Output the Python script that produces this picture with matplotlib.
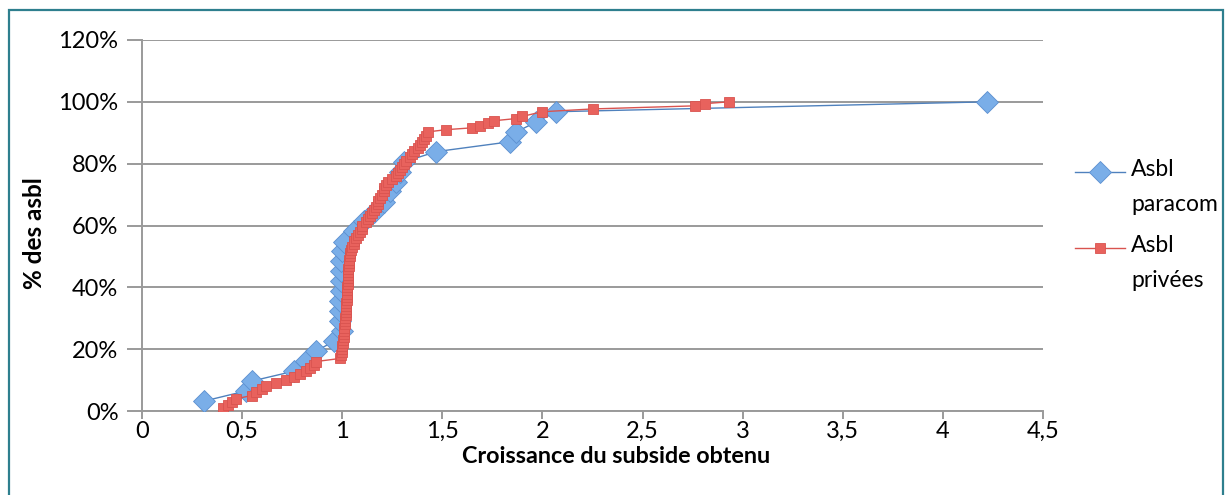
import matplotlib
matplotlib.use("Agg")
import matplotlib.pyplot as plt
from matplotlib.patches import Rectangle
from matplotlib.lines import Line2D
from matplotlib.ticker import FuncFormatter, MultipleLocator

# ---- data ----
paracom_x = [0.31, 0.52, 0.55, 0.76, 0.82, 0.87, 0.96,
             1.00, 0.99, 0.99, 0.99, 0.995, 0.995, 0.995, 0.995, 1.00, 1.01,
             1.06, 1.11, 1.16, 1.21, 1.24, 1.27, 1.29, 1.31,
             1.47, 1.84, 1.87, 1.97, 2.07, 4.22]
paracom_y = [3.2, 6.5, 9.7, 12.9, 16.1, 19.4, 22.6,
             25.8, 29.0, 32.3, 35.5, 38.7, 41.9, 45.2, 48.4, 51.6, 54.8,
             58.1, 61.3, 64.5, 67.7, 71.0, 74.2, 77.4, 80.6,
             83.9, 87.1, 90.3, 93.5, 96.8, 100.0]

privees_x = [0.405, 0.43, 0.45, 0.47, 0.55, 0.57, 0.60, 0.62, 0.67, 0.72,
             0.76, 0.79, 0.82, 0.84, 0.86, 0.87,
             0.99, 0.995, 1.00, 1.00, 1.00, 1.005, 1.005, 1.01, 1.01, 1.01,
             1.01, 1.015, 1.015, 1.015, 1.02, 1.02, 1.02, 1.02, 1.02, 1.025,
             1.025, 1.025, 1.025, 1.025, 1.03, 1.03, 1.03, 1.03, 1.03, 1.03,
             1.035, 1.035, 1.035, 1.04, 1.04, 1.045,
             1.05, 1.06, 1.06, 1.07, 1.08, 1.09, 1.10, 1.10, 1.12, 1.13,
             1.14, 1.15, 1.16, 1.17, 1.18, 1.18, 1.19, 1.20, 1.21, 1.21,
             1.22, 1.23, 1.25, 1.27, 1.28, 1.29, 1.30, 1.31, 1.32, 1.34,
             1.35, 1.36, 1.38, 1.39, 1.40, 1.41, 1.42, 1.43,
             1.52, 1.65, 1.69, 1.73, 1.76, 1.87, 1.90, 2.00, 2.25, 2.76, 2.81, 2.93]
privees_y = [1.0, 2.0, 3.0, 4.0, 5.0, 6.0, 7.0, 8.0, 9.0, 10.0,
             11.0, 12.0, 13.0, 14.0, 15.0, 16.0,
             17.0, 18.0, 19.0, 20.0, 21.0, 22.0, 23.0, 24.0, 25.0, 26.0,
             27.0, 28.0, 29.0, 30.0, 31.0, 32.0, 33.0, 34.0, 35.0, 36.0,
             37.0, 38.0, 39.0, 40.0, 41.0, 42.0, 43.0, 44.0, 45.0, 46.0,
             47.0, 48.0, 49.0, 50.0, 51.0, 52.0,
             53.0, 54.0, 55.0, 56.0, 57.0, 58.0, 59.0, 60.0, 61.0, 62.0,
             63.0, 64.0, 65.0, 66.0, 67.0, 68.0, 69.0, 70.0, 71.0, 72.0,
             73.0, 74.0, 75.0, 76.0, 77.0, 78.0, 79.0, 80.0, 81.0, 82.0,
             83.0, 84.0, 85.0, 86.0, 87.0, 88.0, 89.0, 90.3,
             91.0, 91.6, 92.3, 93.2, 93.9, 94.6, 95.3, 96.8, 97.7, 98.7, 99.4, 100.0]

series_labels = ["Asbl\nparacom", "Asbl\nprivées"]
x_label = "Croissance du subside obtenu"
y_label = "% des asbl"

# ---- styles ----
blue_style = dict(color="#4F81BD", linewidth=1.0, marker="D", markersize=11.5,
                  markerfacecolor="#7AAEE8", markeredgecolor="#5B8FD0",
                  markeredgewidth=0.6)
red_style = dict(color="#D9534F", linewidth=1.0, marker="s", markersize=7.5,
                 markerfacecolor="#E8625D", markeredgecolor="#D9534F",
                 markeredgewidth=0.6)

# ---- figure ----
plt.rcParams['font.family'] = ['Lato', 'DejaVu Sans']
W, H = 1225, 495
fig = plt.figure(figsize=(W / 100, H / 100), dpi=100)
fig.patch.set_facecolor("white")

# outer teal frame
fig.add_artist(Rectangle((9 / W, -0.05), (1223 - 9) / W, (H - 10) / H + 0.05,
                         transform=fig.transFigure, fill=False,
                         edgecolor="#2E7F8E", linewidth=1.6))

ax = fig.add_axes([142 / W, (H - 411) / H, (1043 - 142) / W, (411 - 40) / H])

grid_col = "#9A9A9A"
ax.set_xlim(0, 4.5)
ax.set_ylim(0, 120)
ax.xaxis.set_major_locator(MultipleLocator(0.5))
ax.yaxis.set_major_locator(MultipleLocator(20))
ax.xaxis.set_major_formatter(FuncFormatter(lambda v, p: (f"{v:g}").replace(".", ",")))
ax.yaxis.set_major_formatter(FuncFormatter(lambda v, p: f"{v:.0f}%"))
ax.grid(axis="y", color=grid_col, linewidth=1.4)
ax.set_axisbelow(True)
for s in ["top", "right"]:
    ax.spines[s].set_visible(False)
for s in ["left", "bottom"]:
    ax.spines[s].set_color(grid_col)
    ax.spines[s].set_linewidth(1.4)
ax.tick_params(axis="both", colors=grid_col, width=1.4,
               labelcolor="black", labelsize=17)
ax.tick_params(axis="x", length=6, pad=1)
ax.tick_params(axis="y", length=11, pad=6)

ax.plot(paracom_x, paracom_y, zorder=3, **blue_style)
ax.plot(privees_x, privees_y, zorder=4, **red_style)

ax.set_xlabel(x_label, fontsize=16.8, fontweight="bold")
ax.set_ylabel(y_label, fontsize=17.5, fontweight="bold")
ax.xaxis.set_label_coords(0.526, -0.095)
ax.yaxis.set_label_coords(-0.107, 0.48)

# ---- manual legend (marker aligned with first text line, as in reference) ----
def fx(px):
    return px / W

def fy(py):
    return (H - py) / H

for label, style, ypx in [(series_labels[0], blue_style, 172),
                          (series_labels[1], red_style, 248)]:
    fig.add_artist(Line2D([fx(1075), fx(1125)], [fy(ypx), fy(ypx)],
                          transform=fig.transFigure,
                          **{k: v for k, v in style.items() if not k.startswith("marker")}))
    fig.add_artist(Line2D([fx(1100)], [fy(ypx)], transform=fig.transFigure,
                          linestyle="none", **{k: v for k, v in style.items()
                                                if k.startswith("marker")}))
    fig.text(fx(1131), fy(ypx - 13), label, fontsize=16.5, va="top", ha="left",
             linespacing=1.8)

fig.savefig("out.png", dpi=100)
